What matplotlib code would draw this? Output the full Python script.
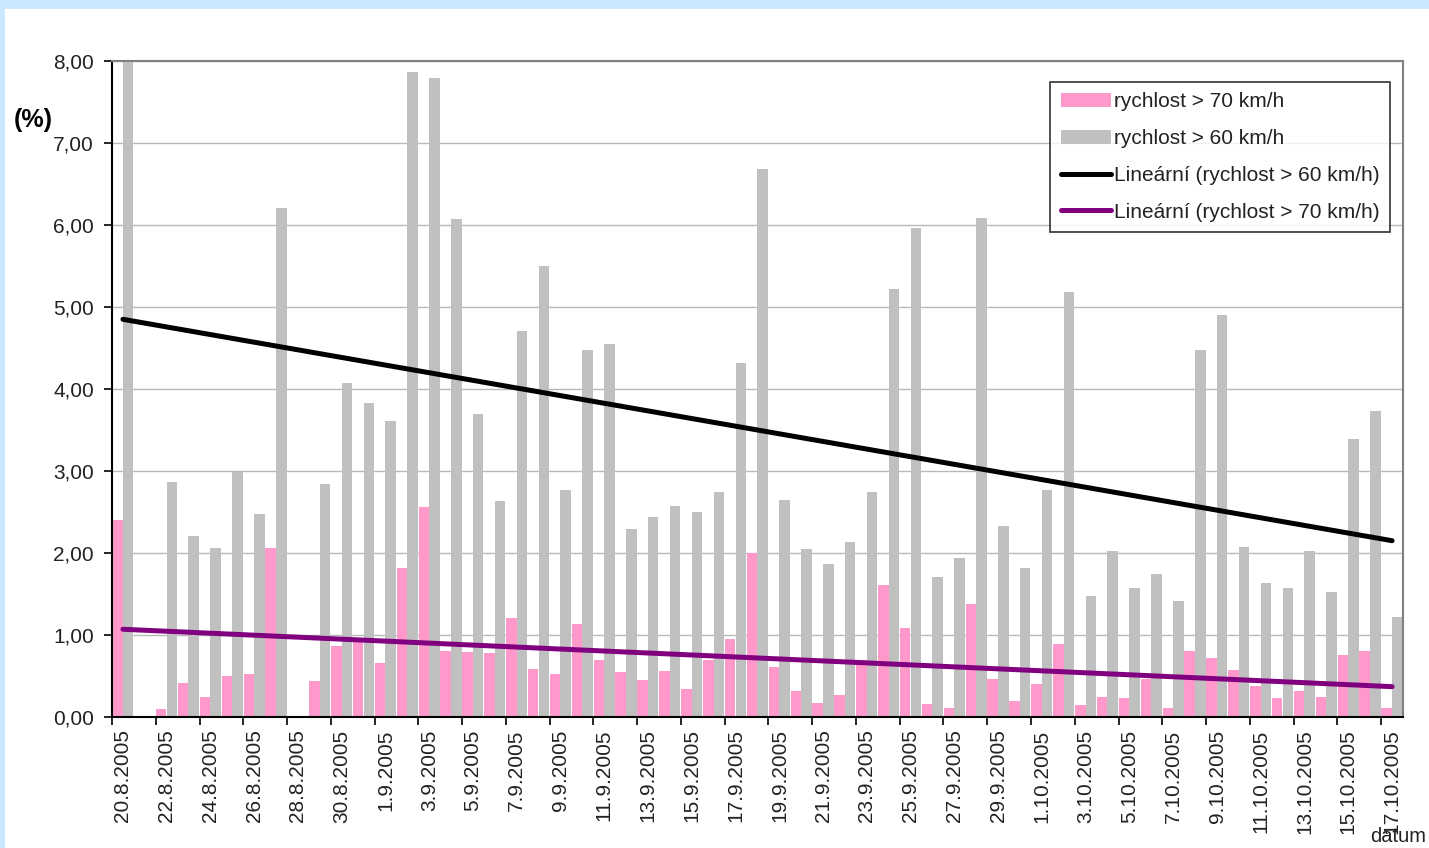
import numpy as np
import matplotlib
matplotlib.use('Agg')
from matplotlib import pyplot as plt
from matplotlib.patches import Rectangle
from matplotlib.ticker import FuncFormatter

plt.rcParams['font.family'] = ['Liberation Sans', 'DejaVu Sans']

dates = ['20.8.2005', '21.8.2005', '22.8.2005', '23.8.2005', '24.8.2005', '25.8.2005',
         '26.8.2005', '27.8.2005', '28.8.2005', '29.8.2005', '30.8.2005', '31.8.2005',
         '1.9.2005', '2.9.2005', '3.9.2005', '4.9.2005', '5.9.2005', '6.9.2005',
         '7.9.2005', '8.9.2005', '9.9.2005', '10.9.2005', '11.9.2005', '12.9.2005',
         '13.9.2005', '14.9.2005', '15.9.2005', '16.9.2005', '17.9.2005', '18.9.2005',
         '19.9.2005', '20.9.2005', '21.9.2005', '22.9.2005', '23.9.2005', '24.9.2005',
         '25.9.2005', '26.9.2005', '27.9.2005', '28.9.2005', '29.9.2005', '30.9.2005',
         '1.10.2005', '2.10.2005', '3.10.2005', '4.10.2005', '5.10.2005', '6.10.2005',
         '7.10.2005', '8.10.2005', '9.10.2005', '10.10.2005', '11.10.2005', '12.10.2005',
         '13.10.2005', '14.10.2005', '15.10.2005', '16.10.2005', '17.10.2005']

# rychlost > 70 km/h
over70 = [2.40, 0.00, 0.10, 0.42, 0.25, 0.50, 0.53, 2.06, 0.00, 0.44,
          0.86, 0.93, 0.66, 1.82, 2.56, 0.81, 0.79, 0.78, 1.21, 0.58,
          0.53, 1.13, 0.69, 0.55, 0.45, 0.56, 0.34, 0.70, 0.95, 2.00,
          0.61, 0.32, 0.17, 0.27, 0.70, 1.61, 1.08, 0.16, 0.11, 1.38,
          0.46, 0.20, 0.40, 0.89, 0.15, 0.25, 0.23, 0.46, 0.11, 0.80,
          0.72, 0.57, 0.38, 0.23, 0.32, 0.25, 0.76, 0.80, 0.11]

# rychlost > 60 km/h
over60 = [8.04, 0.00, 2.87, 2.21, 2.06, 2.99, 2.47, 6.21, 0.00, 2.84,
          4.07, 3.83, 3.61, 7.87, 7.79, 6.07, 3.70, 2.63, 4.71, 5.50,
          2.77, 4.48, 4.55, 2.29, 2.44, 2.57, 2.50, 2.75, 4.32, 6.68,
          2.65, 2.05, 1.87, 2.13, 2.75, 5.22, 5.96, 1.71, 1.94, 6.08,
          2.33, 1.82, 2.77, 5.18, 1.47, 2.03, 1.57, 1.75, 1.41, 4.48,
          4.90, 2.07, 1.63, 1.57, 2.02, 1.53, 3.39, 3.73, 1.22]

# trend lines as drawn in the original (value at first and last day)
trend60 = [4.85, 2.15]
trend70 = [1.07, 0.37]

yticks = [0, 1, 2, 3, 4, 5, 6, 7, 8]

x = np.arange(len(dates))

fig = plt.figure(figsize=(14.29, 8.48), dpi=100)
fig.patch.set_facecolor('#CCE8FF')
fig.patches.append(Rectangle((5 / 1429, 0), 1, 1 - 9 / 848, transform=fig.transFigure,
                             facecolor='white', edgecolor='none', zorder=-1))

ax = fig.add_axes([112 / 1429, 1 - 717 / 848, (1403 - 112) / 1429, (717 - 61) / 848])
ax.set_axisbelow(True)

b70 = ax.bar(x - 0.25, over70, width=0.48, color='#FF99CC', zorder=2)
b60 = ax.bar(x + 0.235, over60, width=0.48, color='#C0C0C0', zorder=2)

ends = [x[0], x[-1]]
l60, = ax.plot(ends, trend60, color='black', lw=3.6, zorder=3, solid_capstyle='round')
l70, = ax.plot(ends, trend70, color='#800080', lw=3.6, zorder=3, solid_capstyle='round')

ax.set_xlim(-0.5, len(dates) - 0.5)
ax.set_ylim(0, 8)
ax.set_yticks(yticks)
ax.yaxis.set_major_formatter(FuncFormatter(lambda v, p: f'{v:.2f}'.replace('.', ',')))
ax.grid(axis='y', color='#B8B8B8', lw=1)

ax.set_xticks(np.arange(-0.5, len(dates) - 1, 2))
ax.set_xticklabels([])
ax.set_xticks(x[::2], minor=True)
ax.set_xticklabels(dates[::2], minor=True, rotation=90)
ax.tick_params(axis='x', which='minor', length=0, pad=9, labelsize=15, colors='#222222')
ax.tick_params(axis='x', which='major', length=6, width=1.2)
ax.tick_params(axis='y', length=6, width=1.2, labelsize=15, pad=7, labelcolor='#222222')

for s in ['left', 'bottom']:
    ax.spines[s].set_color('black')
    ax.spines[s].set_linewidth(1.5)
for s in ['top', 'right']:
    ax.spines[s].set_color('#808080')
    ax.spines[s].set_linewidth(1.5)

leg = ax.legend([b70, b60, l60, l70],
                ['rychlost > 70 km/h', 'rychlost > 60 km/h',
                 'Lineární (rychlost > 60 km/h)', 'Lineární (rychlost > 70 km/h)'],
                loc='upper right', bbox_to_anchor=((1390 - 112) / 1291, 1 - 21 / 656),
                fontsize=15, frameon=True, fancybox=False, handlelength=2.4,
                handletextpad=0.15, borderpad=0.5, labelspacing=0.85, borderaxespad=0)
leg.get_frame().set_edgecolor('black')
leg.get_frame().set_linewidth(1.2)
for t in leg.get_texts():
    t.set_color('#222222')

fig.text(14 / 1429, 1 - 120 / 848, '(%)', fontsize=18, fontweight='bold', va='center', ha='left')
fig.text(1426 / 1429, 1 - 837 / 848, 'datum', fontsize=14.5, va='center', ha='right', color='#222222')

fig.savefig('out.png', dpi=100, facecolor=fig.get_facecolor())
